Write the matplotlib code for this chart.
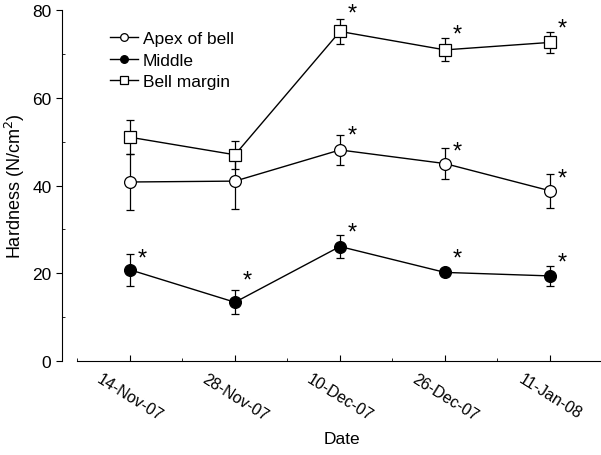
import matplotlib.pyplot as plt
from matplotlib.lines import Line2D
from matplotlib.ticker import AutoMinorLocator, MultipleLocator

dates = ["14-Nov-07", "28-Nov-07", "10-Dec-07", "26-Dec-07", "11-Jan-08"]

apex_mean = [40.8, 41.0, 48.1, 45.0, 38.8]
apex_sd = [6.4, 6.4, 3.5, 3.5, 3.9]
middle_mean = [20.8, 13.4, 26.1, 20.2, 19.4]
middle_sd = [3.7, 2.7, 2.7, 0.8, 2.2]
margin_mean = [51.0, 47.0, 75.1, 70.9, 72.6]
margin_sd = [3.9, 3.2, 2.9, 2.6, 2.4]

# heights of the significance asterisks, None where there is none
apex_star = [None, None, 52.6, 49.0, 42.8]
middle_star = [24.6, 19.6, 30.5, 24.6, 23.7]
margin_star = [None, None, 80.4, 75.8, 77.2]


def main():
    plt.rcParams["font.family"] = ["Liberation Sans", "DejaVu Sans"]
    fig = plt.figure(figsize=(6.01, 4.56), dpi=100)
    ax = fig.add_axes([0.103, 0.206, 0.897, 0.770])

    x = list(range(len(dates)))
    series = [
        ("Apex of bell", apex_mean, apex_sd, apex_star, "o", "white", 8.5),
        ("Middle", middle_mean, middle_sd, middle_star, "o", "black", 8.5),
        ("Bell margin", margin_mean, margin_sd, margin_star, "s", "white", 8),
    ]
    handles = []
    for label, mean, sd, stars, marker, face, ms in series:
        ax.errorbar(x, mean, yerr=sd, color="black", lw=1.0, marker=marker,
                    ms=ms, mfc=face, mec="black", mew=0.9, capsize=3,
                    elinewidth=0.9, capthick=0.9)
        for xi, s in zip(x, stars):
            if s is not None:
                # glyph sits high in its box, so drop the baseline
                ax.annotate("*", (xi, s), xytext=(9, -8.5),
                            textcoords="offset points", fontsize=17,
                            ha="center", va="baseline",
                            annotation_clip=False)
        handles.append(Line2D([], [], color="black", lw=1.0, marker=marker,
                              ms=ms * 0.65, mfc=face, mec="black", mew=0.9,
                              label=label))

    ax.set_xlim(-0.648, 4.486)
    ax.set_ylim(0, 80)
    ax.spines["top"].set_visible(False)
    ax.spines["right"].set_visible(False)
    ax.spines["bottom"].set_bounds(-0.5, 4.5)
    ax.set_xticks(x)
    ax.set_xticklabels(dates, rotation=-32, ha="center", va="top")
    ax.xaxis.set_minor_locator(MultipleLocator(0.5))
    ax.yaxis.set_major_locator(MultipleLocator(20))
    ax.yaxis.set_minor_locator(AutoMinorLocator(2))
    ax.tick_params(axis="x", which="major", direction="in", length=4,
                   labelsize=11.5, pad=7)
    ax.tick_params(axis="x", which="minor", direction="in", length=2)
    ax.tick_params(axis="y", which="major", direction="out", length=4,
                   labelsize=12.5)
    ax.tick_params(axis="y", which="minor", direction="in", length=2)

    ax.set_xlabel("Date", fontsize=12.5)
    ax.set_ylabel("Hardness (N/cm$^2$)", fontsize=13)
    ax.xaxis.set_label_coords(0.52, -0.2)

    ax.legend(handles=handles, loc="upper left", bbox_to_anchor=(0.06, 0.985),
              frameon=False, fontsize=12.5, handlelength=1.6,
              handletextpad=0.3, labelspacing=0.38)

    fig.savefig("out.png", dpi=100)


if __name__ == "__main__":
    main()
